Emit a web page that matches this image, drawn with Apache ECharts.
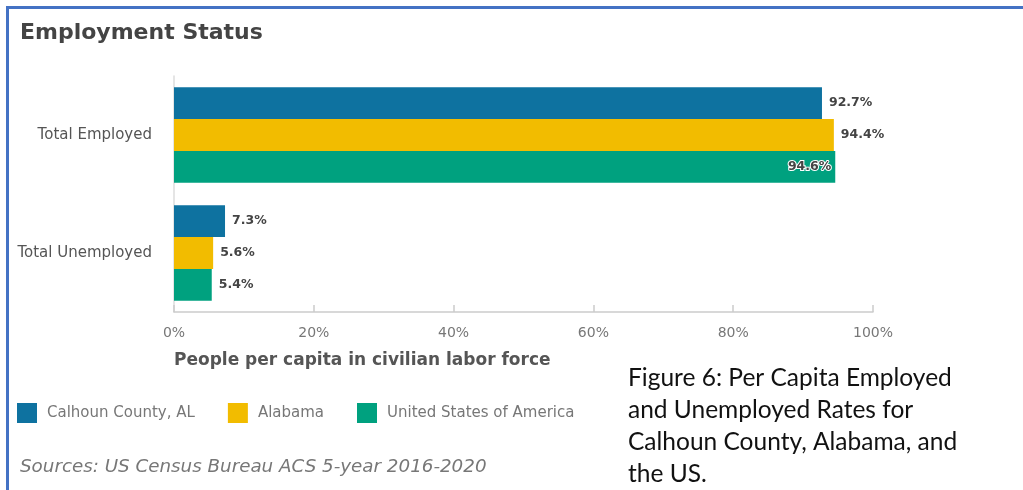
<!DOCTYPE html>
<html>
<head>
<meta charset="utf-8">
<script src="https://cdn.jsdelivr.net/npm/echarts@6/dist/echarts.min.js"></script>
<style>
  html, body { margin: 0; padding: 0; background: #fff; }
  #chart { width: 1023px; height: 490px; }
</style>
</head>
<body>
<div id="chart"></div>
<script>
// Employment status categories and per-capita rates (%)
const categories = ['Total Employed', 'Total Unemployed'];
const seriesNames = ['Calhoun County, AL', 'Alabama', 'United States of America'];
const calhoun = [92.7, 7.3];
const alabama = [94.4, 5.6];
const usa = [94.6, 5.4];
const xTicks = [0, 20, 40, 60, 80, 100];

const colors = ['#0E72A0', '#F2BC00', '#00A17F'];
const valueSets = [calhoun, alabama, usa];

const labelStyle = {
  show: true,
  position: 'right',
  distance: 7,
  color: '#444',
  fontFamily: 'DejaVu Sans',
  fontWeight: 'bold',
  fontSize: 12.5,
  formatter: p => p.value.toFixed(1) + '%'
};

const series = seriesNames.map((name, i) => ({
  name,
  type: 'bar',
  barGap: '0%',
  barCategoryGap: '19%',
  itemStyle: { color: colors[i] },
  label: labelStyle,
  data: valueSets[i].map((v, j) => {
    // the longest bar carries its label inside the bar end
    if (i === 2 && j === 0) {
      return {
        value: v,
        label: {
          position: 'insideRight',
          distance: 4,
          textBorderColor: '#fff',
          textBorderWidth: 2
        }
      };
    }
    return v;
  })
}));

const chart = echarts.init(document.getElementById('chart'), null, { renderer: 'canvas' });
chart.setOption({
  animation: false,
  color: colors,
  title: [
    {
      text: 'Employment Status',
      left: 20, top: 22, padding: 0,
      textStyle: { fontFamily: 'DejaVu Sans', fontWeight: 'bold', fontSize: 22, color: '#444' }
    },
    {
      text: 'People per capita in civilian labor force',
      left: 174, top: 352, padding: 0,
      textStyle: { fontFamily: 'DejaVu Sans', fontWeight: 'bold', fontSize: 17, color: '#555' }
    },
    {
      text: 'Sources: US Census Bureau ACS 5-year 2016-2020',
      left: 20, top: 458, padding: 0,
      textStyle: { fontFamily: 'DejaVu Sans', fontStyle: 'italic', fontWeight: 'normal', fontSize: 18.3, color: '#777' }
    },
    {
      text: 'Figure 6: Per Capita Employed\nand Unemployed Rates for\nCalhoun County, Alabama, and\nthe US.',
      left: 628, top: 362, padding: 0,
      textStyle: { fontFamily: 'Lato', fontWeight: 'normal', fontSize: 24.5, lineHeight: 32, color: '#111' }
    }
  ],
  legend: {
    data: seriesNames,
    left: 17, top: 403, padding: 0,
    itemWidth: 20, itemHeight: 20,
    itemGap: 33,
    icon: 'rect',
    textStyle: { fontFamily: 'DejaVu Sans', fontSize: 15, color: '#777', padding: [0, 0, 0, 5] }
  },
  grid: { left: 174, right: 150, top: 76, bottom: 178, containLabel: false },
  xAxis: {
    type: 'value',
    min: xTicks[0],
    max: xTicks[xTicks.length - 1],
    interval: 20,
    axisLine: { show: true, lineStyle: { color: '#ccc', width: 1.5 } },
    axisTick: { show: true, inside: true, length: 7, lineStyle: { color: '#ccc', width: 1.5 } },
    splitLine: { show: false },
    axisLabel: {
      margin: 14,
      color: '#777',
      fontFamily: 'DejaVu Sans',
      fontSize: 14,
      formatter: '{value}%'
    }
  },
  yAxis: {
    type: 'category',
    data: categories,
    inverse: true,
    axisLine: { show: true, lineStyle: { color: '#ddd', width: 1.5 } },
    axisTick: { show: false },
    axisLabel: { margin: 22, color: '#555', fontFamily: 'DejaVu Sans', fontSize: 15 }
  },
  series,
  graphic: [
    { type: 'rect', shape: { x: 6, y: 6, width: 1017, height: 3 }, style: { fill: '#4472C4' }, z: 100 },
    { type: 'rect', shape: { x: 6, y: 6, width: 3, height: 484 }, style: { fill: '#4472C4' }, z: 100 }
  ]
});
</script>
</body>
</html>
